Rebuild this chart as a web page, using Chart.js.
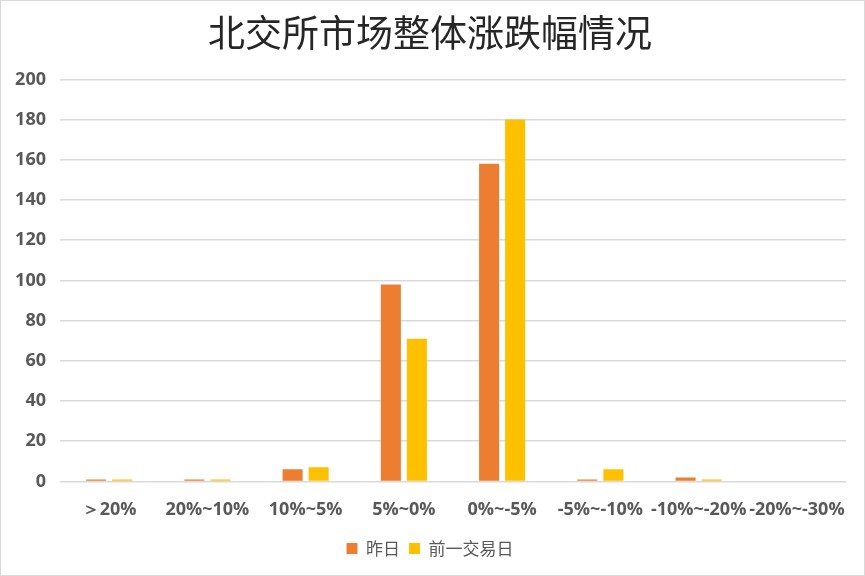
<!DOCTYPE html>
<html>
<head>
<meta charset="utf-8">
<script src="https://cdn.jsdelivr.net/npm/chart.js@4"></script>
<style>
  html, body { margin: 0; padding: 0; background: #fff; }
  #wrap { width: 865px; height: 576px; box-sizing: border-box; border: 1px solid #d9d9d9; position: relative; }
</style>
</head>
<body>
<div id="wrap"><canvas id="c"></canvas></div>
<script>
const categories = ["＞20%", "20%~10%", "10%~5%", "5%~0%", "0%~-5%", "-5%~-10%", "-10%~-20%", "-20%~-30%"];
const yesterday = [1, 1, 6, 98, 158, 1, 2, 0];
const prevDay = [1, 1, 7, 71, 180, 6, 1, 0];
const yTicks = [0, 20, 40, 60, 80, 100, 120, 140, 160, 180, 200];

const labelFont = { family: "'Open Sans', 'Liberation Sans', sans-serif", size: 18, weight: "bold" };

new Chart(document.getElementById("c"), {
  type: "bar",
  data: {
    labels: categories,
    datasets: [
      {
        label: "昨日",
        data: yesterday,
        backgroundColor: "#ED7D31",
        borderWidth: 0,
        categoryPercentage: 0.53,
        barPercentage: 0.77
      },
      {
        label: "前一交易日",
        data: prevDay,
        backgroundColor: "#FFC000",
        borderWidth: 0,
        categoryPercentage: 0.53,
        barPercentage: 0.77
      }
    ]
  },
  options: {
    responsive: true,
    maintainAspectRatio: false,
    animation: false,
    layout: { padding: { left: 13, right: 18, top: 6, bottom: 8 } },
    plugins: {
      title: {
        display: true,
        text: "北交所市场整体涨跌幅情况",
        color: "#262626",
        font: { family: "'Noto Sans CJK SC', sans-serif", size: 37, weight: "normal" },
        padding: { top: 4, bottom: 24 }
      },
      legend: {
        position: "bottom",
        labels: {
          color: "#595959",
          font: { family: "'Noto Sans CJK SC', sans-serif", size: 17 },
          boxWidth: 11,
          boxHeight: 11,
          padding: 9
        }
      },
      tooltip: { enabled: false }
    },
    scales: {
      x: {
        grid: { display: false },
        border: { display: false },
        ticks: { color: "#595959", font: labelFont, maxRotation: 0, autoSkip: false, padding: 10 }
      },
      y: {
        min: 0,
        max: 200,
        afterBuildTicks: axis => { axis.ticks = yTicks.map(v => ({ value: v })); },
        afterFit: axis => { axis.width = 46; },
        grid: { color: "#d9d9d9", lineWidth: 1.5, drawTicks: false },
        border: { display: false },
        ticks: { color: "#595959", font: labelFont, padding: 14 }
      }
    }
  }
});
</script>
</body>
</html>
